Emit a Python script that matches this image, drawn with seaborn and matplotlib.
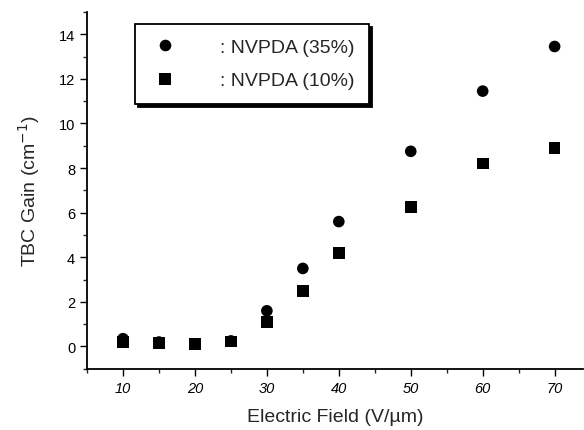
import matplotlib
matplotlib.use("Agg")
import matplotlib.pyplot as plt
import numpy as np
import pandas as pd
import seaborn as sns
from matplotlib.ticker import MultipleLocator


# --------- Values --------- #
FIELD = [10, 15, 20, 25, 30, 35, 40, 50, 60, 70]
GAIN_35 = [0.35, 0.2, 0.12, 0.25, 1.6, 3.5, 5.6, 8.75, 11.45, 13.45]
GAIN_10 = [0.2, 0.15, 0.12, 0.22, 1.1, 2.5, 4.2, 6.25, 8.2, 8.9]
SERIES = [": NVPDA (35%)", ": NVPDA (10%)"]


# --------- Build long table --------- #
df = pd.DataFrame({
    "field": FIELD * 2,
    "gain": GAIN_35 + GAIN_10,
    "series": [SERIES[0]] * len(FIELD) + [SERIES[1]] * len(FIELD),
})

sns.set_style("ticks")
plt.rcParams["font.family"] = ["Liberation Sans", "DejaVu Sans"]

fig = plt.figure(figsize=(5.84, 4.31), dpi=100)
ax = fig.add_axes([0.149, 0.142, 0.85, 0.828])

sns.scatterplot(data=df, x="field", y="gain", hue="series", style="series",
                markers={SERIES[0]: "o", SERIES[1]: "s"},
                palette={SERIES[0]: "black", SERIES[1]: "black"},
                s=70, edgecolor="black", linewidth=0, ax=ax)

ax.set_xlim(5, 74)
ax.set_ylim(-1, 15)
ax.set_xticks([10, 20, 30, 40, 50, 60, 70])
ax.set_yticks([0, 2, 4, 6, 8, 10, 12, 14])
ax.xaxis.set_minor_locator(MultipleLocator(5))
ax.yaxis.set_minor_locator(MultipleLocator(1))
ax.tick_params(which="major", length=5, width=1, labelsize=10.5, colors="black")
ax.tick_params(which="minor", length=3, width=1)
for lbl in ax.get_xticklabels():
    lbl.set_fontstyle("italic")

sns.despine(ax=ax)
for sp in ("left", "bottom"):
    ax.spines[sp].set_linewidth(1.3)
    ax.spines[sp].set_color("black")

ax.set_xlabel("Electric Field (V/\u00b5m)", fontsize=14, labelpad=10)
ax.set_ylabel("TBC Gain (cm$^{-1}$)", fontsize=14, labelpad=12)

leg = ax.legend(loc="upper left", bbox_to_anchor=(0.097, 0.966), frameon=True,
                fancybox=False, shadow={"color": "black", "alpha": 1.0},
                fontsize=14, handletextpad=2.0, borderpad=0.75, borderaxespad=0,
                labelspacing=0.8, markerscale=1.0, handlelength=1.6)
leg.get_frame().set_edgecolor("black")
leg.get_frame().set_linewidth(1.3)
leg.get_frame().set_alpha(1.0)

fig.savefig("out.png", dpi=100)
